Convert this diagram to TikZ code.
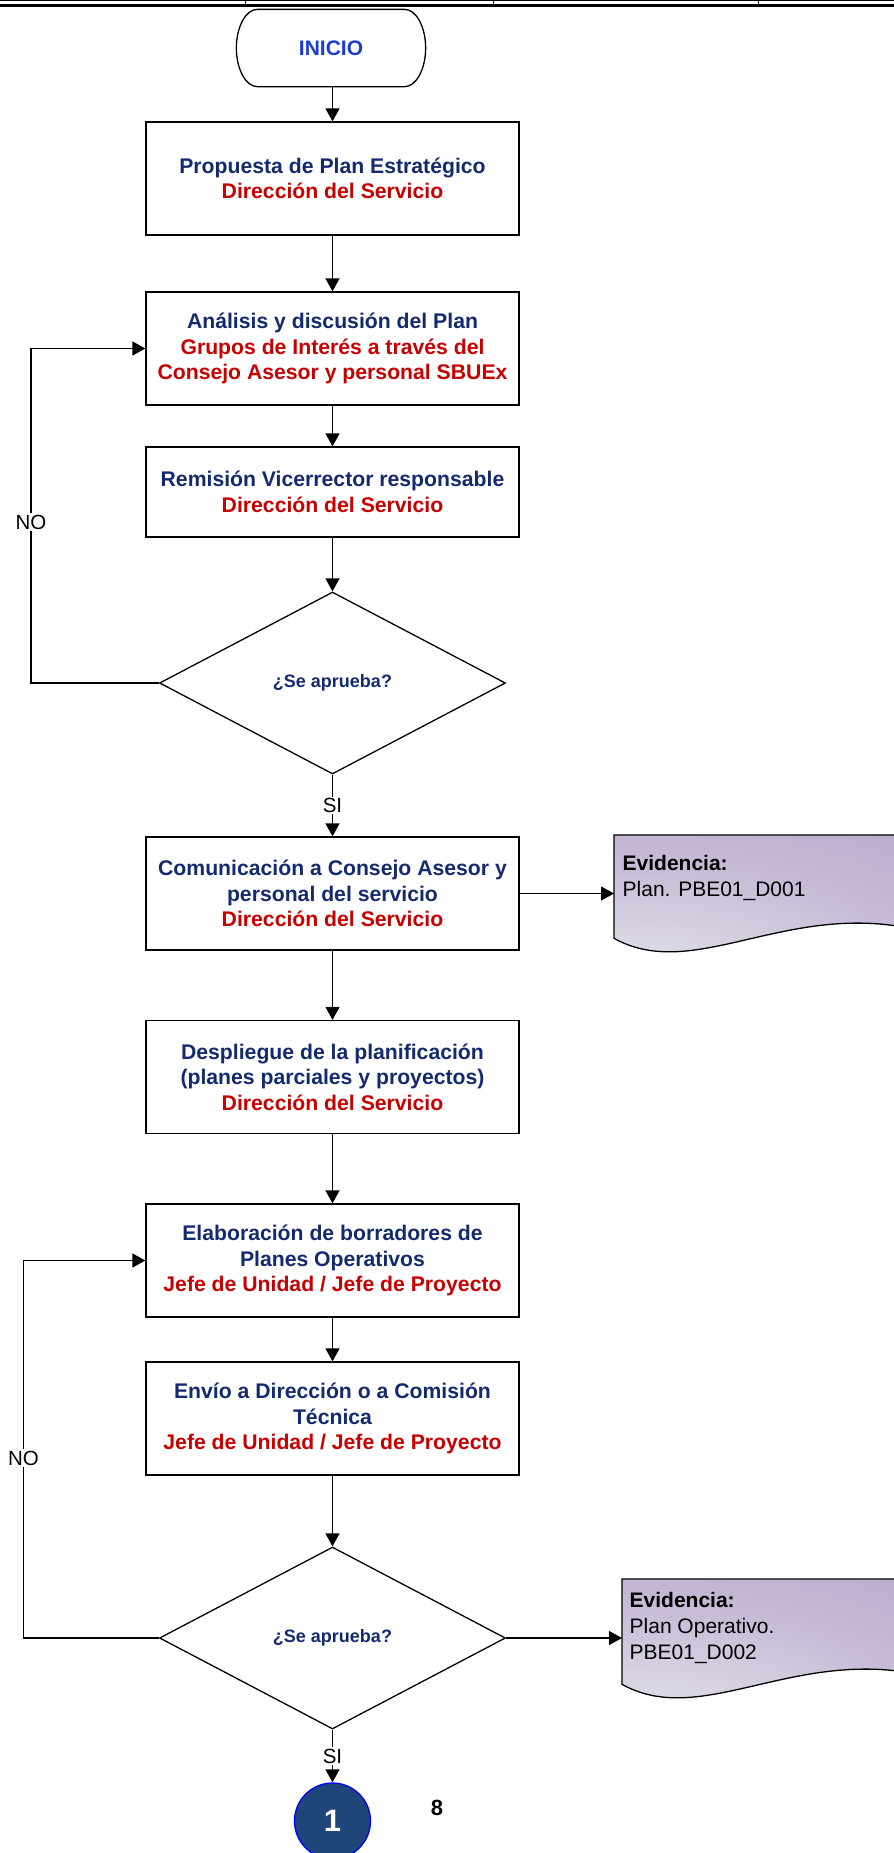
\documentclass[tikz,border=0pt]{standalone}
\usepackage{fontspec}
\setmainfont{Liberation Sans}
\usetikzlibrary{arrows.meta,shapes.geometric,calc}
\definecolor{navy}{RGB}{20,42,110}
\definecolor{myred}{RGB}{200,0,0}
\definecolor{iniblue}{RGB}{25,60,210}
\definecolor{circfill}{RGB}{31,69,122}
\definecolor{evpurple}{RGB}{178,158,201}
\definecolor{evmid}{RGB}{198,186,214}
\definecolor{evlight}{RGB}{230,229,234}
\pgfdeclareradialshading{evrad}{\pgfpoint{-30bp}{-40bp}}{color(0bp)=(evlight); color(12bp)=(evlight); color(45bp)=(evmid); color(80bp)=(evpurple); color(150bp)=(evpurple)}
\newcommand\myfs[2]{\fontsize{#1}{#2}\selectfont}
\begin{document}
\begin{tikzpicture}[x=1pt,y=-1pt,
  line width=1.3pt,
  procbox/.style={draw, minimum width=373pt, minimum height=113pt, align=center, inner sep=0pt, text=navy, font=\myfs{21.2}{25.5}\bfseries},
  decis/.style={draw, diamond, minimum width=346pt, minimum height=182pt, inner sep=0pt, text=navy, font=\myfs{18}{21}\bfseries},
  arr/.style={-{Triangle[length=13pt,width=14pt]}},
  lbl/.style={fill=white, inner sep=1.5pt, font=\myfs{20.5}{24}},
  evbox/.style={minimum width=330pt, minimum height=102pt, inner sep=0pt, anchor=north west},
  evtext/.style={anchor=north west, align=left, inner sep=0pt, font=\myfs{21}{26}},
  evshade/.style={shading=evrad, draw=black}
]
\useasboundingbox (0,0) rectangle (894,1853);
% header frame
\draw[line width=1pt] (0,0.8) -- (894,0.8);
\draw[line width=2.6pt] (0,5.3) -- (894,5.3);
\foreach \x in {245,493,758} \draw[line width=1pt] (\x,0) -- (\x,4);
% start
\node[text=iniblue, font=\myfs{21}{24}\bfseries, minimum width=188pt, minimum height=76pt, inner sep=0pt] (ini) at (331,48) {INICIO};
\draw ($(ini.north west)+(21,0)$) -- ($(ini.north east)+(-21,0)$) .. controls +(11.6,0) and +(0,-21) .. (ini.east) .. controls +(0,21) and +(11.6,0) .. ($(ini.south east)+(-21,0)$) -- ($(ini.south west)+(21,0)$) .. controls +(-11.6,0) and +(0,21) .. (ini.west) .. controls +(0,-21) and +(-11.6,0) .. ($(ini.north west)+(21,0)$) -- cycle;
% process boxes
\node[procbox] (b1) at (332.5,178.5) {Propuesta de Plan Estratégico\\\textcolor{myred}{Dirección del Servicio}};
\node[procbox] (b2) at (332.5,348.5) {Análisis y discusión del Plan\\\textcolor{myred}{Grupos de Interés a través del}\\\textcolor{myred}{Consejo Asesor y personal SBUEx}};
\node[procbox, minimum height=90pt] (b3) at (332.5,492) {Remisión Vicerrector responsable\\\textcolor{myred}{Dirección del Servicio}};
\node[decis] (d1) at (332.5,683) {¿Se aprueba?};
\node[procbox] (b4) at (332.5,893.5) {Comunicación a Consejo Asesor y\\personal del servicio\\\textcolor{myred}{Dirección del Servicio}};
\node[procbox] (b5) at (332.5,1077) {Despliegue de la planificación\\(planes parciales y proyectos)\\\textcolor{myred}{Dirección del Servicio}};
\node[procbox] (b6) at (332.5,1260.5) {Elaboración de borradores de\\Planes Operativos\\\textcolor{myred}{Jefe de Unidad / Jefe de Proyecto}};
\node[procbox] (b7) at (332.5,1418.5) {Envío a Dirección o a Comisión\\Técnica\\\textcolor{myred}{Jefe de Unidad / Jefe de Proyecto}};
\node[decis] (d2) at (332.5,1638) {¿Se aprueba?};
\node[circle, draw=blue, fill=circfill, minimum size=76pt, inner sep=0pt, text=white, font=\myfs{31}{34}\bfseries] (c1) at (332.5,1821) {1};
\node[font=\myfs{22}{24}\bfseries] (pg) at (437,1808) {8};
% evidence documents
\node[evbox] (ev1) at (614,835) {};
\shadedraw[evshade] (ev1.north west) -- (ev1.north east) -- (ev1.south east) .. controls +(-144,-51.4) and +(86,48) .. (ev1.south west) -- cycle;
\node[evtext] (ev1t) at (622,855) {\textbf{Evidencia:}\\Plan. PBE01\_D001};
\node[evbox, minimum height=104pt] (ev2) at (622,1579) {};
\shadedraw[evshade] (ev2.north west) -- (ev2.north east) -- (ev2.south east) .. controls +(-144,-51.4) and +(86,48) .. (ev2.south west) -- cycle;
\node[evtext] (ev2t) at (629,1592) {\textbf{Evidencia:}\\Plan Operativo.\\PBE01\_D002};
% connectors
\draw[arr] (b1.north |- ini.south) -- (b1.north);
\draw[arr] (b1) -- (b2);
\draw[arr] (b2) -- (b3);
\draw[arr] (b3) -- (d1);
\draw[arr] (d1) -- node[lbl]{SI} (b4);
\draw[arr] (b4) -- (b5);
\draw[arr] (b5) -- (b6);
\draw[arr] (b6) -- (b7);
\draw[arr] (b7) -- (d2);
\draw[arr] (d2) -- node[lbl]{SI} (c1);
\draw[arr] (b4.east) -- (b4.east -| ev1.west);
\draw[arr] (d2.east) -- (d2.east -| ev2.west);
\coordinate (n1) at (31,0);
\draw[arr] (d1.west) -| (n1 |- b2.west) -- (b2.west);
\node[lbl] (no1) at (31,522) {NO};
\coordinate (n2) at (23.5,0);
\draw[arr] (d2.west) -| (n2 |- b6.west) -- (b6.west);
\node[lbl] (no2) at (23.5,1458) {NO};
\end{tikzpicture}
\end{document}
